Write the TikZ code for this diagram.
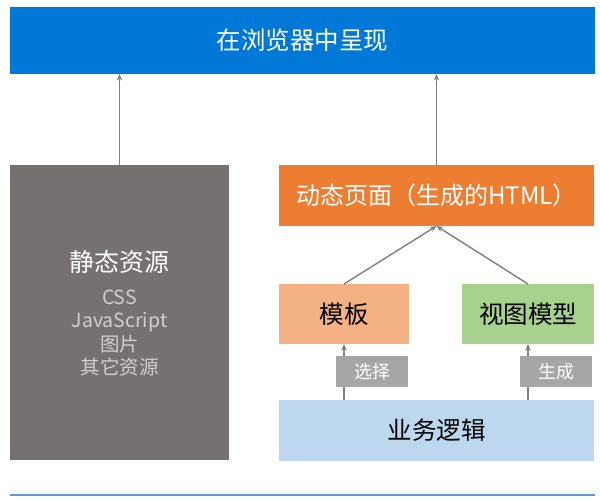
\documentclass[tikz,border=0pt]{standalone}
\usepackage{fontspec}
\setmainfont{Noto Sans CJK SC}
\usetikzlibrary{arrows.meta}
\definecolor{topblue}{HTML}{0078D7}
\definecolor{staticgray}{HTML}{767171}
\definecolor{dynorange}{HTML}{ED7D31}
\definecolor{tplorange}{HTML}{F4B183}
\definecolor{vmgreen}{HTML}{A9D18E}
\definecolor{lblgray}{HTML}{A6A6A6}
\definecolor{bizblue}{HTML}{BDD7EE}
\definecolor{arrowgray}{HTML}{7F7F7F}
\definecolor{linegblue}{HTML}{5B9BD5}
\definecolor{listgray}{HTML}{D0CECE}
\begin{document}
\begin{tikzpicture}[x=1pt,y=-1pt,
  blk/.style={inner sep=0pt, outer sep=0pt, anchor=center},
  bigfont/.style={font=\fontsize{24.5}{28}\selectfont},
  conn/.style={draw=arrowgray, line width=1.4pt, -{Stealth[length=6.5pt,width=5.5pt]}},
  tag/.style={fill=lblgray, text=white, inner sep=0pt, minimum width=72pt, minimum height=31pt, font=\fontsize{18}{21}\selectfont}
]
\useasboundingbox (0,0) rectangle (600,499);
% boxes
\node[blk, bigfont, fill=topblue, minimum width=585pt, minimum height=67pt, text=white] (browser) at (302.5,40.5) {在浏览器中呈现};
\node[blk, fill=staticgray, minimum width=219pt, minimum height=295pt] (static) at (119.5,312.5) {};
\node[inner sep=0pt, text=white, font=\fontsize{25}{28}\selectfont] (statictitle) at (119.5,262) {静态资源};
\node[inner sep=0pt, text=listgray, align=center, font=\fontsize{19.5}{23.5}\selectfont] (staticlist) at (119.5,333) {CSS\\JavaScript\\图片\\其它资源};
\node[blk, fill=dynorange, minimum width=315pt, minimum height=61pt, text=white, font=\fontsize{24}{28}\selectfont] (dynamic) at (436.5,195.5) {动态页面（生成的HTML）};
\node[blk, bigfont, fill=tplorange, minimum width=130pt, minimum height=60pt] (template) at (344,314) {模板};
\node[blk, bigfont, fill=vmgreen, minimum width=132pt, minimum height=60pt] (viewmodel) at (528,314) {视图模型};
\node[blk, bigfont, fill=bizblue, minimum width=315pt, minimum height=61pt] (business) at (436.5,430.5) {业务逻辑};
% connectors
\draw[conn] (static.north) -- (static.north |- browser.south);
\draw[conn] (dynamic.north) -- (dynamic.north |- browser.south);
\draw[conn] (template.north) -- (dynamic.south);
\draw[conn] (viewmodel.north) -- (dynamic.south);
\draw[conn] (template.south |- business.north) -- (template.south);
\draw[conn] (viewmodel.south |- business.north) -- (viewmodel.south);
% tags
\node[tag] (select) at (372,371.5) {选择};
\node[tag] (generate) at (556,371.5) {生成};
% bottom line
\coordinate (lineL) at (10,495);
\coordinate (lineR) at (595,495);
\draw[linegblue, line width=2.5pt] (lineL) -- (lineR);
\end{tikzpicture}
\end{document}
